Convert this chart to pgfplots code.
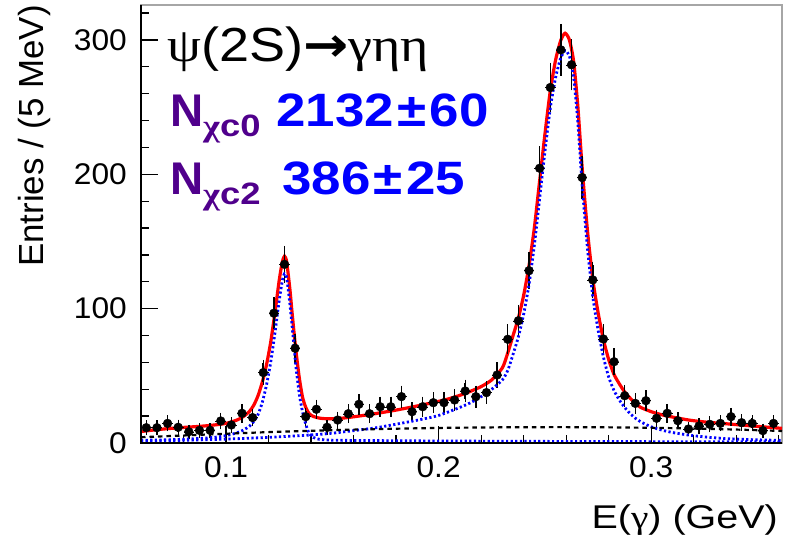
\documentclass[border=0pt]{standalone}
\usepackage{pgfplots}
\pgfplotsset{compat=1.18}
\usepackage{fontspec}
\setmainfont{Liberation Sans}
\newfontfamily\grk{Liberation Serif}
\newfontfamily\dejavu{DejaVu Sans}
\definecolor{nviolet}{RGB}{80,0,140}

\pgfplotstableread{
x y e
0.0625 11.4 3.4
0.0675 11.4 3.4
0.0725 14.6 3.8
0.0775 11.7 3.4
0.0825 8.4 2.9
0.0875 9.4 3.1
0.0925 9.4 3.1
0.0975 16.4 4.0
0.1025 13.4 3.7
0.1075 22.1 4.7
0.1125 18.9 4.3
0.1175 52.4 7.2
0.1225 96.6 9.8
0.1275 133.0 11.5
0.1325 70.5 8.4
0.1375 19.6 4.4
0.1425 25.1 5.0
0.1475 11.7 3.4
0.1525 17.1 4.1
0.1575 21.8 4.7
0.1625 28.8 5.4
0.1675 21.8 4.7
0.1725 27.0 5.2
0.1775 27.0 5.2
0.1825 34.5 5.9
0.1875 23.3 4.8
0.1925 27.0 5.2
0.1975 30.0 5.5
0.2025 30.0 5.5
0.2075 32.0 5.7
0.2125 38.7 6.2
0.2175 34.5 5.9
0.2225 37.5 6.1
0.2275 50.6 7.1
0.2325 77.2 8.8
0.2375 91.0 9.5
0.2425 128.3 11.3
0.2475 204.5 14.3
0.2525 264.6 16.3
0.2575 292.6 17.1
0.2625 281.5 16.8
0.2675 197.6 14.1
0.2725 121.4 11.0
0.2775 77.4 8.8
0.2825 60.5 7.8
0.2875 35.2 5.9
0.2925 29.5 5.4
0.2975 31.5 5.6
0.3025 18.4 4.3
0.3075 22.1 4.7
0.3125 16.6 4.1
0.3175 10.4 3.2
0.3225 12.7 3.6
0.3275 13.9 3.7
0.3325 14.6 3.8
0.3375 19.6 4.4
0.3425 15.1 3.9
0.3475 14.6 3.8
0.3525 9.2 3.0
0.3575 14.6 3.8
}\datatable

\pgfplotstableread{
x y
0.0600 8.5
0.0650 9.5
0.0700 10.3
0.0750 11.0
0.0800 11.6
0.0850 12.1
0.0900 12.7
0.0950 13.5
0.1000 14.6
0.1050 17.0
0.1080 19.5
0.1110 23.5
0.1130 28
0.1150 35
0.1170 45
0.1190 58
0.1210 75
0.1230 97
0.1250 121
0.1265 135
0.1275 139
0.1285 135
0.1300 115
0.1310 98
0.1320 82
0.1330 67
0.1345 48
0.1360 34
0.1375 26.5
0.1390 22
0.1410 19.8
0.1440 18.5
0.1480 18.0
0.1530 18.2
0.1600 19.5
0.1700 21.8
0.1800 24.5
0.1900 27.6
0.2000 31
0.2050 33
0.2100 35.5
0.2150 38.5
0.2200 42
0.2250 47
0.2300 56
0.2325 67
0.2350 80
0.2375 93
0.2400 110
0.2425 132
0.2450 160
0.2475 195
0.2500 230
0.2525 262
0.2550 285
0.2575 300
0.2595 305
0.2615 300
0.2635 284
0.2655 250
0.2675 205
0.2700 158
0.2725 122
0.2750 97
0.2775 77
0.2800 62
0.2825 51
0.2850 44
0.2875 38
0.2900 33.5
0.2925 29.5
0.2950 26.5
0.3000 23.3
0.3050 21
0.3100 19.3
0.3180 17
0.3260 15.5
0.3340 14.5
0.3450 13
0.3615 10.9
}\totaltable

\pgfplotstableread{
x y
0.0600 2.0
0.0700 2.3
0.0800 2.8
0.0900 3.6
0.0950 4.3
0.1000 5.5
0.1050 7.5
0.1080 9.5
0.1110 12.5
0.1130 16
0.1150 21
0.1170 30
0.1190 43
0.1210 60
0.1230 82
0.1250 106
0.1265 121
0.1275 126
0.1285 123
0.1300 104
0.1310 88
0.1320 71
0.1330 55
0.1345 36
0.1360 23
0.1375 14
0.1390 7.5
0.1410 4.2
0.1440 2.7
0.1500 2.1
0.1600 1.9
0.2000 1.5
0.2500 1.2
0.3000 1.0
0.3615 0.8
}\chictwotable

\pgfplotstableread{
x y
0.0600 1.5
0.0800 2.0
0.1000 2.9
0.1200 4.2
0.1400 6.0
0.1500 7.3
0.1600 9.2
0.1700 11.2
0.1800 14.0
0.1900 17.0
0.2000 20.5
0.2100 26.5
0.2150 30
0.2200 34.5
0.2250 40
0.2300 47
0.2325 54
0.2350 66
0.2375 79
0.2400 96
0.2425 118
0.2450 147
0.2475 182
0.2500 217
0.2525 249
0.2550 272
0.2575 287
0.2595 292
0.2615 288
0.2635 272
0.2655 238
0.2675 192
0.2700 145
0.2725 109
0.2750 84
0.2775 64
0.2800 49
0.2825 39
0.2850 32
0.2875 26.5
0.2900 22
0.2925 18.5
0.2950 15.8
0.3000 12
0.3050 9.6
0.3100 7.8
0.3180 5.8
0.3260 4.4
0.3340 3.4
0.3450 2.6
0.3615 1.9
}\chiczerotable

\pgfplotstableread{
x y
0.060 4.3
0.080 5.6
0.100 6.9
0.120 8.1
0.140 9.1
0.160 9.95
0.180 10.65
0.200 11.2
0.220 11.55
0.240 11.75
0.260 11.8
0.280 11.65
0.300 11.3
0.320 10.75
0.340 10.0
0.3615 8.95
}\bgtable

\begin{document}
\begin{tikzpicture}
\begin{axis}[
  at={(0,0)}, anchor=south west, scale only axis,
  width=641bp, height=438bp,
  xmin=0.06, xmax=0.3615, ymin=0, ymax=326,
  xtick={0.1,0.2,0.3}, xticklabels={0.1,0.2,0.3},
  ytick={0,100,200,300},
  minor xtick={0.08,0.12,0.14,0.16,0.18,0.22,0.24,0.26,0.28,0.32,0.34,0.36},
  minor ytick={20,40,60,80,120,140,160,180,220,240,260,280,320},
  tick align=inside, xtick pos=bottom, ytick pos=left,
  major tick length=17bp, minor tick length=8bp,
  tick style={black, line width=1.3bp},
  axis line style={draw=gray!70, line width=1.5bp},
  ticklabel style={font=\fontsize{30}{36}\selectfont},
  /pgf/number format/assume math mode=true,
  xticklabel style={inner sep=0pt, yshift=-13bp, xscale=1.06},
  yticklabel style={inner sep=0pt, xshift=-14bp, xscale=1.06},
  clip=true,
]
\addplot[red, line width=3.2bp, smooth, tension=0.4] table[x=x,y=y] {\totaltable};
\addplot[only marks, mark=none, black, line width=2.4bp,
  error bars/.cd, x dir=both, x fixed=0.0025, error mark=none]
  table[x=x,y=y] {\datatable};
\addplot[only marks, mark=*, mark size=4.4bp, black,
  error bars/.cd, y dir=both, y explicit,
  error bar style={line width=1.5bp, black},
  error mark options={black, mark size=3bp, line width=1.4bp}]
  table[x=x,y=y,y error=e] {\datatable};
\addplot[blue, line width=2.8bp, dash pattern=on 2.2bp off 2.4bp, smooth, tension=0.4] table[x=x,y=y] {\chictwotable};
\addplot[blue, line width=2.8bp, dash pattern=on 2.2bp off 2.4bp, smooth, tension=0.4] table[x=x,y=y] {\chiczerotable};
\addplot[black, line width=2.2bp, dash pattern=on 4.5bp off 4bp, smooth] table[x=x,y=y] {\bgtable};
\end{axis}
\draw[black, line width=1.8bp] (0,438bp) -- (0,0) -- (641bp,0);

\node[anchor=base west, inner sep=0pt, xscale=1.13, font=\fontsize{48}{56}\selectfont] at (26bp,381bp)
  {{\grk ψ}(2S){\dejavu\bfseries →}{\grk γηη}};
\node[anchor=base west, inner sep=0pt, text=nviolet, font=\bfseries\fontsize{46}{54}\selectfont] at (29bp,316bp) {N};
\node[anchor=base west, inner sep=0pt, xscale=1.18, text=nviolet, font=\bfseries\fontsize{31}{36}\selectfont] at (62bp,306bp) {{\grk χ}c0};
\node[anchor=base west, inner sep=0pt, xscale=1.13, text=blue, font=\bfseries\fontsize{47}{54}\selectfont] at (135bp,316bp) {2132\kern3bp±\kern3bp 60};
\node[anchor=base west, inner sep=0pt, text=nviolet, font=\bfseries\fontsize{46}{54}\selectfont] at (29bp,248bp) {N};
\node[anchor=base west, inner sep=0pt, xscale=1.18, text=nviolet, font=\bfseries\fontsize{31}{36}\selectfont] at (62bp,238bp) {{\grk χ}c2};
\node[anchor=base west, inner sep=0pt, xscale=1.13, text=blue, font=\bfseries\fontsize{47}{54}\selectfont] at (141bp,248bp) {386\kern3bp±\kern3bp 25};

\node[anchor=north east, rotate=90, inner sep=0pt, font=\fontsize{35}{40}\selectfont] at (-123bp,438bp) {Entries / (5 MeV)};
\node[anchor=base east, inner sep=0pt, xscale=1.2, font=\fontsize{33}{38}\selectfont] at (637bp,-85bp) {E({\grk γ}) (GeV)};

\pgfresetboundingbox
\path (-141bp,-95bp) rectangle (647bp,443bp);
\end{tikzpicture}
\end{document}
